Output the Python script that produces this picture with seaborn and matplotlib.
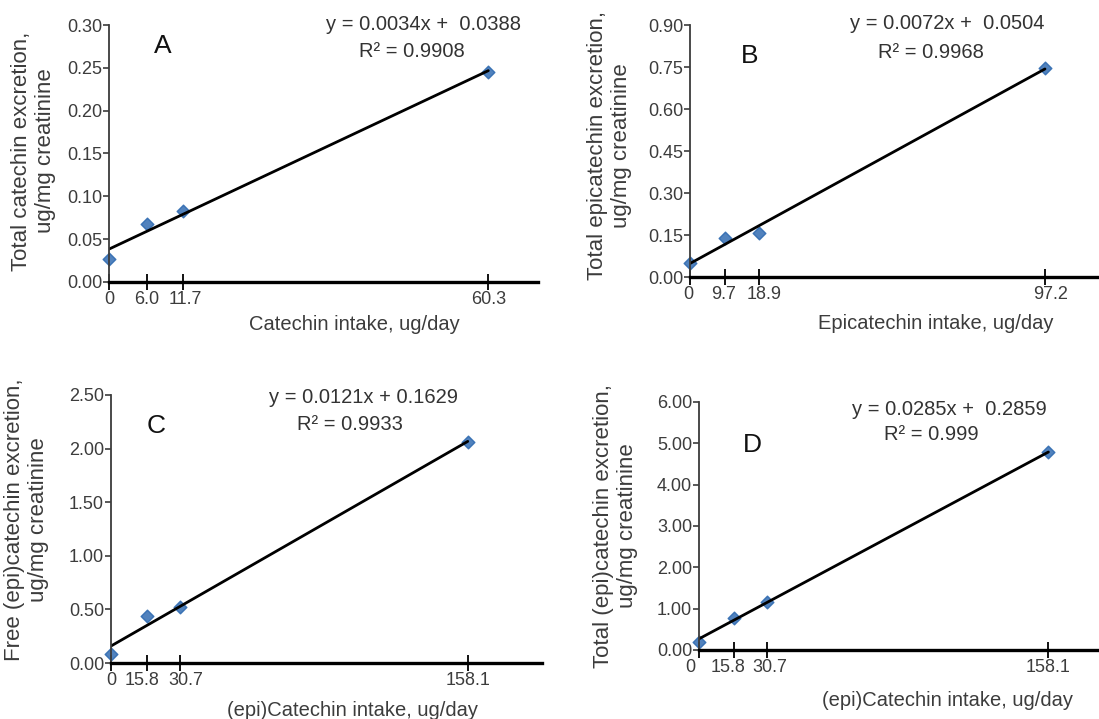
import matplotlib
matplotlib.use("Agg")
import matplotlib.pyplot as plt
from matplotlib.transforms import ScaledTranslation
import seaborn as sns

# Panel data
panels = ["A", "B", "C", "D"]

intake_a = [0, 6.0, 11.7, 60.3]
excretion_a = [0.027, 0.068, 0.083, 0.245]

intake_b = [0, 9.7, 18.9, 97.2]
excretion_b = [0.05, 0.139, 0.157, 0.746]

intake_c = [0, 15.8, 30.7, 158.1]
excretion_c = [0.084, 0.44, 0.52, 2.06]

intake_d = [0, 15.8, 30.7, 158.1]
excretion_d = [0.2, 0.78, 1.17, 4.78]

xtick_labels_a = ["0", "6.0", "11.7", "60.3"]
xtick_labels_b = ["0", "9.7", "18.9", "97.2"]
xtick_labels_c = ["0", "15.8", "30.7", "158.1"]
xtick_labels_d = ["0", "15.8", "30.7", "158.1"]

ylabels = [
    "Total catechin excretion,\nug/mg creatinine",
    "Total epicatechin excretion,\nug/mg creatinine",
    "Free (epi)catechin excretion,\nug/mg creatinine",
    "Total (epi)catechin excretion,\nug/mg creatinine",
]
xlabels = [
    "Catechin intake, ug/day",
    "Epicatechin intake, ug/day",
    "(epi)Catechin intake, ug/day",
    "(epi)Catechin intake, ug/day",
]
equations = [
    "y = 0.0034x +  0.0388",
    "y = 0.0072x +  0.0504",
    "y = 0.0121x + 0.1629",
    "y = 0.0285x +  0.2859",
]
r_squared = ["R² = 0.9908", "R² = 0.9968", "R² = 0.9933", "R² = 0.999"]

y_max = [0.30, 0.90, 2.50, 6.00]
y_step = [0.05, 0.15, 0.50, 1.00]
x_max = [68.2, 112, 191, 181]

sns.set_style("ticks")
plt.rcParams["font.family"] = ["Liberation Sans", "DejaVu Sans"]

fig = plt.figure(figsize=(10.99, 7.19), dpi=100)
W, H = 1099, 719

# axes boxes in pixels: left, right, top, bottom
boxes = [(109, 538, 25, 282), (690, 1099, 25, 277), (111, 542, 395, 663), (699, 1099, 402, 650)]
# text positions in axes coords
ylab_pos = [(-0.124, 0.51), (-0.142, 0.52), (-0.144, 0.535), (-0.153, 0.5)]
xlab_pos = [(0.573, -0.13), (0.6, -0.145), (0.56, -0.14), (0.62, -0.165)]
eq_pos = [(0.734, 1.0), (0.63, 1.004), (0.587, 0.99), (0.625, 0.968)]
r2_pos = [(0.706, 0.895), (0.59, 0.89), (0.555, 0.89), (0.58, 0.867)]
letter_pos = [(0.126, 0.918), (0.147, 0.877), (0.104, 0.884), (0.1325, 0.827)]
# small horizontal nudges (points) for crowded x tick labels
label_nudge = [[0, 0, 2, 0], [-1, -1, 4, 4], [0, -3, 4, 0], [-6, -4, 2, 0]]

intakes = [intake_a, intake_b, intake_c, intake_d]
excretions = [excretion_a, excretion_b, excretion_c, excretion_d]
xtick_labels = [xtick_labels_a, xtick_labels_b, xtick_labels_c, xtick_labels_d]

gray = "#3c3c3c"

for i in range(4):
    l, r, t, b = boxes[i]
    ax = fig.add_axes([l / W, 1 - b / H, (r - l) / W, (b - t) / H])

    # regression line fitted by seaborn over the points
    sns.regplot(x=intakes[i], y=excretions[i], ax=ax, ci=None, truncate=True,
                marker="D",
                scatter_kws={"color": "#2563ad", "s": 42, "clip_on": False, "zorder": 1},
                line_kws={"color": "black", "lw": 2.0, "zorder": 2})

    ax.set_xlim(0, x_max[i])
    ax.set_ylim(0, y_max[i])
    n = int(round(y_max[i] / y_step[i]))
    yticks = [k * y_step[i] for k in range(n + 1)]
    ax.set_yticks(yticks)
    ax.set_yticklabels([f"{v:.2f}" for v in yticks])
    ax.set_xticks(intakes[i])
    ax.set_xticklabels(xtick_labels[i])

    for s in ["top", "right"]:
        ax.spines[s].set_visible(False)
    ax.spines["left"].set_color(gray)
    ax.spines["left"].set_linewidth(1.3)
    ax.spines["bottom"].set_color("black")
    ax.spines["bottom"].set_linewidth(2.4)

    ax.tick_params(axis="x", direction="inout", length=11, width=1.3, bottom=True,
                   color="black", pad=1, labelsize=13, labelcolor=gray)
    ax.tick_params(axis="y", direction="out", length=4, width=1.2, left=True,
                   color=gray, pad=1, labelsize=13, labelcolor=gray)

    for lbl, dx in zip(ax.get_xticklabels(), label_nudge[i]):
        lbl.set_transform(lbl.get_transform() + ScaledTranslation(dx / 72, 0, fig.dpi_scale_trans))

    ax.set_ylabel(ylabels[i], fontsize=16, color=gray, multialignment="center")
    ax.yaxis.set_label_coords(*ylab_pos[i])
    ax.set_xlabel(xlabels[i], fontsize=14.5, color=gray)
    ax.xaxis.set_label_coords(*xlab_pos[i])

    ax.text(*eq_pos[i], equations[i], transform=ax.transAxes, ha="center",
            va="center", fontsize=14.5, color="#333333")
    ax.text(*r2_pos[i], r_squared[i], transform=ax.transAxes, ha="center",
            va="center", fontsize=14.5, color="#333333")
    ax.text(*letter_pos[i], panels[i], transform=ax.transAxes, ha="center",
            va="center", fontsize=19, color="#111111")

fig.savefig("out.png", dpi=100)
